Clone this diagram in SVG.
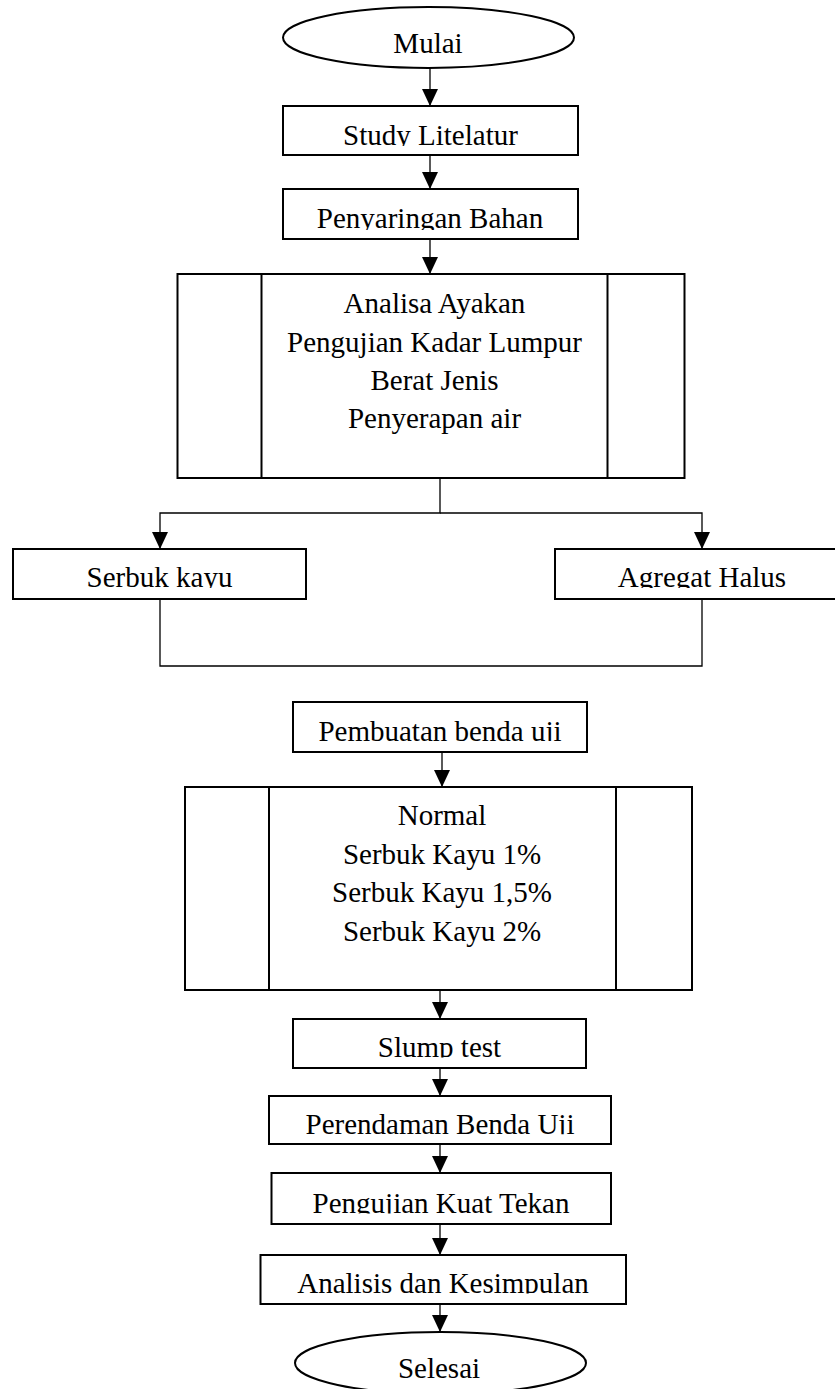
<svg xmlns="http://www.w3.org/2000/svg" width="835" height="1389" viewBox="0 0 835 1389">
<style>
.box{fill:#fff;stroke:#000;stroke-width:2}
.ln{fill:none;stroke:#000;stroke-width:2}
.t{font-family:"Liberation Serif","Times New Roman",serif;font-size:29px;fill:#000;text-anchor:middle}
.c{fill:none;stroke:#000;stroke-width:1.3}
</style>
<defs>
<marker id="ah" viewBox="0 0 17 16" refX="17" refY="8" markerWidth="17" markerHeight="16" markerUnits="userSpaceOnUse" orient="auto">
<path d="M0,0 L17,8 L0,16 Z" fill="#000"/>
</marker>
<clipPath id="cStudy"><rect x="283" y="106" width="295" height="40"/></clipPath>
<clipPath id="cPeny"><rect x="283" y="189" width="295" height="41"/></clipPath>
<clipPath id="cSerbuk"><rect x="13" y="549" width="293" height="39"/></clipPath>
<clipPath id="cAgregat"><rect x="555" y="549" width="294" height="39"/></clipPath>
<clipPath id="cPemb"><rect x="293" y="702" width="294" height="39"/></clipPath>
<clipPath id="cSlump"><rect x="293" y="1019" width="293" height="38.5"/></clipPath>
<clipPath id="cPerend"><rect x="269" y="1096" width="342" height="38.3"/></clipPath>
<clipPath id="cPengu"><rect x="271" y="1173" width="340" height="40.5"/></clipPath>
<clipPath id="cAnal"><rect x="261" y="1255" width="365" height="38.5"/></clipPath>
</defs>

<g id="connectors">
<line class="c" x1="430" y1="68" x2="430" y2="106" marker-end="url(#ah)"/>
<line class="c" x1="430" y1="155" x2="430" y2="189" marker-end="url(#ah)"/>
<line class="c" x1="430" y1="239" x2="430" y2="274" marker-end="url(#ah)"/>
<polyline class="c" points="440,478 440,513 160,513 160,549" marker-end="url(#ah)"/>
<polyline class="c" points="440,513 702,513 702,549" marker-end="url(#ah)"/>
<polyline class="c" points="160,599 160,666 702,666 702,599"/>
<line class="c" x1="442" y1="752" x2="442" y2="787" marker-end="url(#ah)"/>
<line class="c" x1="440" y1="990" x2="440" y2="1019" marker-end="url(#ah)"/>
<line class="c" x1="440" y1="1068" x2="440" y2="1096" marker-end="url(#ah)"/>
<line class="c" x1="440" y1="1144" x2="440" y2="1173" marker-end="url(#ah)"/>
<line class="c" x1="440" y1="1224" x2="440" y2="1255" marker-end="url(#ah)"/>
<line class="c" x1="440" y1="1304" x2="440" y2="1332" marker-end="url(#ah)"/>
</g>

<g id="mulai">
<ellipse class="box" cx="428.5" cy="37.5" rx="145.5" ry="30.5"/>
<text class="t" x="428" y="53">Mulai</text>
</g>

<g id="study">
<rect class="box" x="283" y="106" width="295" height="49"/>
<text class="t" x="430.5" y="145" clip-path="url(#cStudy)">Study Litelatur</text>
</g>

<g id="penyaringan">
<rect class="box" x="283" y="189" width="295" height="50"/>
<text class="t" x="430" y="228" clip-path="url(#cPeny)">Penyaringan Bahan</text>
</g>

<g id="analisa">
<rect class="box" x="177.5" y="274" width="507" height="204"/>
<line class="ln" x1="261.5" y1="274" x2="261.5" y2="478"/>
<line class="ln" x1="607.5" y1="274" x2="607.5" y2="478"/>
<text class="t" x="434.5" y="313">Analisa Ayakan</text>
<text class="t" x="434.5" y="352">Pengujian Kadar Lumpur</text>
<text class="t" x="434.5" y="390">Berat Jenis</text>
<text class="t" x="434.5" y="428">Penyerapan air</text>
</g>

<g id="serbuk">
<rect class="box" x="13" y="549" width="293" height="50"/>
<text class="t" x="159.5" y="587" clip-path="url(#cSerbuk)">Serbuk kayu</text>
</g>

<g id="agregat">
<rect class="box" x="555" y="549" width="294" height="50"/>
<text class="t" x="702" y="587" clip-path="url(#cAgregat)">Agregat Halus</text>
</g>

<g id="pembuatan">
<rect class="box" x="293" y="702" width="294" height="50"/>
<text class="t" x="440" y="741" clip-path="url(#cPemb)">Pembuatan benda uji</text>
</g>

<g id="variasi">
<rect class="box" x="185" y="787" width="507" height="203"/>
<line class="ln" x1="269" y1="787" x2="269" y2="990"/>
<line class="ln" x1="616" y1="787" x2="616" y2="990"/>
<text class="t" x="442" y="825">Normal</text>
<text class="t" x="442" y="864">Serbuk Kayu 1%</text>
<text class="t" x="442" y="902">Serbuk Kayu 1,5%</text>
<text class="t" x="442" y="941">Serbuk Kayu 2%</text>
</g>

<g id="slump">
<rect class="box" x="293" y="1019" width="293" height="49"/>
<text class="t" x="439.5" y="1057" clip-path="url(#cSlump)">Slump test</text>
</g>

<g id="perendaman">
<rect class="box" x="269" y="1096" width="342" height="48"/>
<text class="t" x="440" y="1134" clip-path="url(#cPerend)">Perendaman Benda Uji</text>
</g>

<g id="pengujian">
<rect class="box" x="271.5" y="1173" width="339.5" height="51"/>
<text class="t" x="441" y="1213" clip-path="url(#cPengu)">Pengujian Kuat Tekan</text>
</g>

<g id="analisis">
<rect class="box" x="260.5" y="1255" width="365.5" height="49"/>
<text class="t" x="443" y="1293" clip-path="url(#cAnal)">Analisis dan Kesimpulan</text>
</g>

<g id="selesai">
<ellipse class="box" cx="440.5" cy="1363" rx="145.5" ry="31"/>
<text class="t" x="439" y="1378">Selesai</text>
</g>
</svg>
